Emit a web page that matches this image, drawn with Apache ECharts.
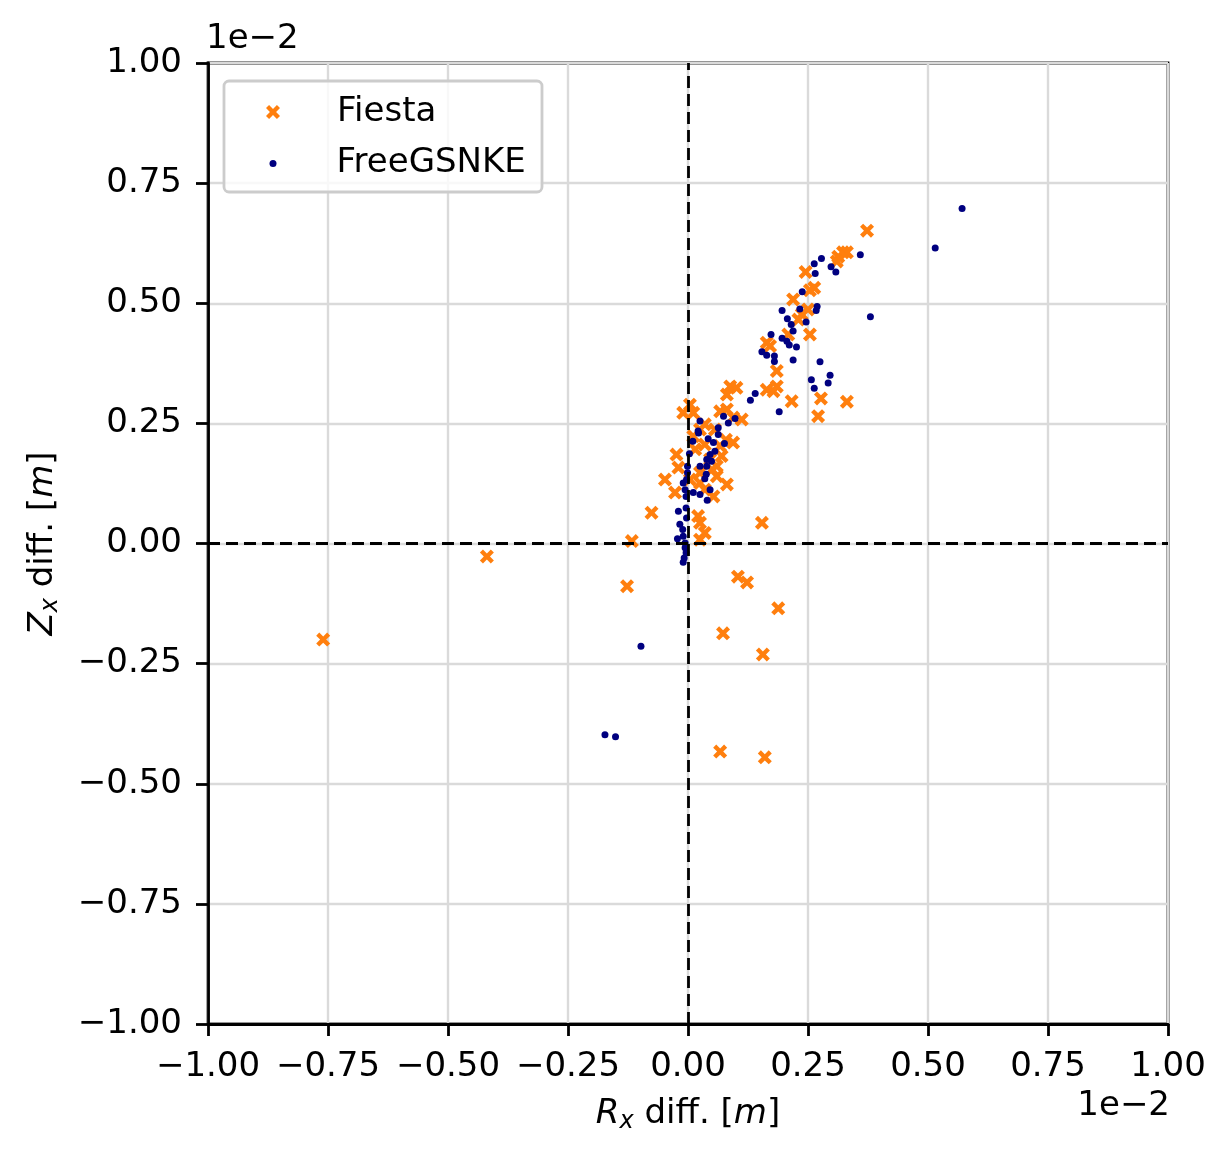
<!DOCTYPE html>
<html>
<head>
<meta charset="utf-8">
<script src="https://cdn.jsdelivr.net/npm/echarts@6.0.0/dist/echarts.min.js"></script>
<style>
  html, body { margin: 0; padding: 0; background: #fff; }
  #chart { width: 1232px; height: 1159px; }
</style>
</head>
<body>
<div id="chart"></div>
<script>
// values in units of 1e-2 m
var ticks = [-1, -0.75, -0.5, -0.25, 0, 0.25, 0.5, 0.75, 1];

var fiestaX = [-0.760, -0.419, -0.117, -0.127, -0.076, 0.067, 0.160, 0.073, 0.156, 0.188, 0.104, 0.123, 0.154,
  0.373, 0.323, 0.331, 0.313, 0.310, 0.245, 0.263, 0.254, 0.219, 0.250, 0.237, 0.230, 0.254, 0.209, 0.164, 0.171,
  0.185, 0.164, 0.178, 0.185, 0.216, 0.277, 0.331, 0.271, 0.088, 0.101, 0.081, 0.081, 0.112, 0.004, -0.010, 0.011,
  0.067, 0.094, 0.094, 0.011, 0.025, -0.024, 0.067, 0.070, -0.020, 0.060, 0.060, -0.048, 0.025, 0.025, 0.081,
  -0.027, 0.053, 0.021, 0.025, 0.035, 0.025, 0.015, 0.035, 0.046, 0.004, 0.035, 0.056, 0.035, 0.079, 0.050];
var fiestaY = [-0.200, -0.027, 0.005, -0.089, 0.064, -0.433, -0.445, -0.187, -0.231, -0.135, -0.069, -0.081, 0.043,
  0.651, 0.606, 0.606, 0.597, 0.587, 0.565, 0.532, 0.527, 0.508, 0.487, 0.477, 0.466, 0.435, 0.435, 0.418, 0.411,
  0.359, 0.320, 0.317, 0.327, 0.296, 0.302, 0.295, 0.265, 0.327, 0.324, 0.310, 0.279, 0.258, 0.289, 0.272, 0.272,
  0.275, 0.262, 0.210, 0.223, 0.237, 0.185, 0.203, 0.182, 0.158, 0.161, 0.140, 0.133, 0.147, 0.126, 0.123,
  0.106, 0.098, 0.057, 0.043, 0.022, 0.008, 0.196, 0.206, 0.175, 0.133, 0.112, 0.237, 0.248, 0.216, 0.154];

var freeX = [0.571, 0.515, 0.359, 0.278, 0.263, 0.265, 0.298, 0.308, 0.238, 0.269, 0.267, 0.233, 0.196, 0.380,
  0.207, 0.215, 0.219, 0.246, 0.173, 0.196, 0.206, 0.211, 0.226, 0.154, 0.164, 0.180, 0.180, 0.219, 0.275, 0.296,
  0.292, 0.257, 0.263, 0.140, 0.130, 0.190, 0.074, 0.098, 0.084, 0.025, 0.021, 0.022, 0.063, 0.063, 0.010, 0.042,
  0.053, 0.076, 0.056, 0.046, 0.039, 0.049, 0.003, 0.025, 0.039, -0.001, -0.001, -0.003, 0.038, 0.035, -0.010,
  -0.006, -0.004, 0.011, 0.025, 0.046, 0.040, -0.004, -0.020, -0.003, -0.017, -0.011, -0.010, -0.022, -0.006,
  -0.006, -0.004, -0.008, -0.010, -0.098, -0.173, -0.151];
var freeY = [0.697, 0.615, 0.601, 0.593, 0.582, 0.562, 0.576, 0.565, 0.524, 0.493, 0.485, 0.488, 0.485, 0.472,
  0.468, 0.456, 0.442, 0.461, 0.435, 0.427, 0.421, 0.413, 0.409, 0.399, 0.392, 0.390, 0.379, 0.382, 0.378, 0.350,
  0.334, 0.341, 0.323, 0.312, 0.298, 0.274, 0.265, 0.260, 0.251, 0.255, 0.234, 0.230, 0.241, 0.227, 0.213, 0.218,
  0.210, 0.208, 0.192, 0.185, 0.175, 0.171, 0.187, 0.161, 0.161, 0.161, 0.147, 0.133, 0.144, 0.135, 0.126,
  0.112, 0.098, 0.106, 0.102, 0.112, 0.090, 0.074, 0.067, 0.053, 0.040, 0.029, 0.015, 0.010, 0.001,
  -0.009, -0.019, -0.030, -0.039, -0.214, -0.398, -0.402];

(function () {
  'use strict';

  var FONT = 'DejaVu Sans';
  var X_MARK = 'path://M0,2.2 L2.2,0 L5,2.8 L7.8,0 L10,2.2 L7.2,5 L10,7.8 L7.8,10 L5,7.2 L2.2,10 L0,7.8 L2.8,5 Z';

  function pairs(xs, ys) {
    return xs.map(function (x, i) { return [x, ys[i]]; });
  }

  function fmt(v) {
    return v.toFixed(2).replace('-', '\u2212');
  }

  var nameRich = {
    it: { fontFamily: FONT, fontSize: 34, fontStyle: 'italic', color: '#000' },
    sub: { fontFamily: FONT, fontSize: 24, fontStyle: 'italic', color: '#000', padding: [16, 0, 0, 0] }
  };

  function valueAxis(extra) {
    var base = {
      type: 'value',
      min: ticks[0],
      max: ticks[ticks.length - 1],
      interval: 0.25,
      nameLocation: 'middle',
      nameTextStyle: { fontFamily: FONT, fontSize: 34, color: '#000', rich: nameRich },
      axisLine: { show: true, onZero: false, lineStyle: { color: '#000', width: 2.8 } },
      axisTick: { show: true, inside: false, length: 12, lineStyle: { color: '#000', width: 2.8 } },
      axisLabel: { fontFamily: FONT, fontSize: 34, color: '#000', formatter: fmt },
      splitLine: { show: true, lineStyle: { color: '#dadada', width: 2.4 } }
    };
    return Object.assign(base, extra);
  }

  var chart = echarts.init(document.getElementById('chart'), null, { renderer: 'canvas' });

  chart.setOption({
    animation: false,
    backgroundColor: '#fff',
    grid: {
      left: 208, right: 64, top: 63, bottom: 135,
      show: true, borderColor: '#000', borderWidth: 2.8, backgroundColor: 'transparent'
    },
    xAxis: valueAxis({
      name: '{it|R}{sub|x} diff. [{it|m}]',
      nameGap: 70,
      axisLabel: { fontFamily: FONT, fontSize: 34, color: '#000', formatter: fmt, margin: 26 }
    }),
    yAxis: valueAxis({
      name: '{it|Z}{sub|x} diff. [{it|m}]',
      nameRotate: 90,
      nameGap: 145,
      axisLabel: { fontFamily: FONT, fontSize: 34, color: '#000', formatter: fmt, margin: 26 }
    }),
    legend: [
      {
        data: ['Fiesta'],
        left: 266, top: 95,
        itemWidth: 14, itemHeight: 14,
        padding: 0,
        textStyle: {
          fontFamily: FONT, fontSize: 34, color: '#000',
          rich: { g: { width: 52 } }
        },
        formatter: '{g|}{name}',
        selectedMode: false
      },
      {
        data: ['FreeGSNKE'],
        left: 269.5, top: 146.5,
        itemWidth: 7, itemHeight: 7,
        padding: 0,
        textStyle: {
          fontFamily: FONT, fontSize: 34, color: '#000',
          rich: { g: { width: 55 } }
        },
        formatter: '{g|}{name}',
        selectedMode: false
      }
    ],
    graphic: [
      {
        type: 'rect', z: 3,
        shape: { x: 224, y: 81, width: 318, height: 111, r: 5 },
        style: { fill: 'rgba(255,255,255,0.8)', stroke: '#cccccc', lineWidth: 2.8 }
      },
      {
        type: 'text', z: 3, left: 206, top: 22,
        style: { text: '1e\u22122', fontFamily: FONT, fontSize: 34, fill: '#000' }
      },
      {
        type: 'text', z: 3, right: 62, top: 1089,
        style: { text: '1e\u22122', fontFamily: FONT, fontSize: 34, fill: '#000' }
      }
    ],
    series: [
      {
        name: 'zero-lines',
        type: 'scatter',
        data: [],
        z: 1,
        silent: true,
        markLine: {
          silent: true,
          symbol: ['none', 'none'],
          label: { show: false },
          lineStyle: { color: '#000', width: 2.8, type: [12, 6] },
          data: [{ xAxis: 0 }, { yAxis: 0 }]
        }
      },
      {
        name: 'Fiesta',
        type: 'scatter',
        symbol: X_MARK,
        symbolSize: 14,
        itemStyle: { color: '#ff7f0e', opacity: 1 },
        data: pairs(fiestaX, fiestaY),
        z: 2
      },
      {
        name: 'FreeGSNKE',
        type: 'scatter',
        symbol: 'circle',
        symbolSize: 7,
        itemStyle: { color: '#000080', opacity: 1 },
        data: pairs(freeX, freeY),
        z: 2
      }
    ]
  });
})();
</script>
</body>
</html>
